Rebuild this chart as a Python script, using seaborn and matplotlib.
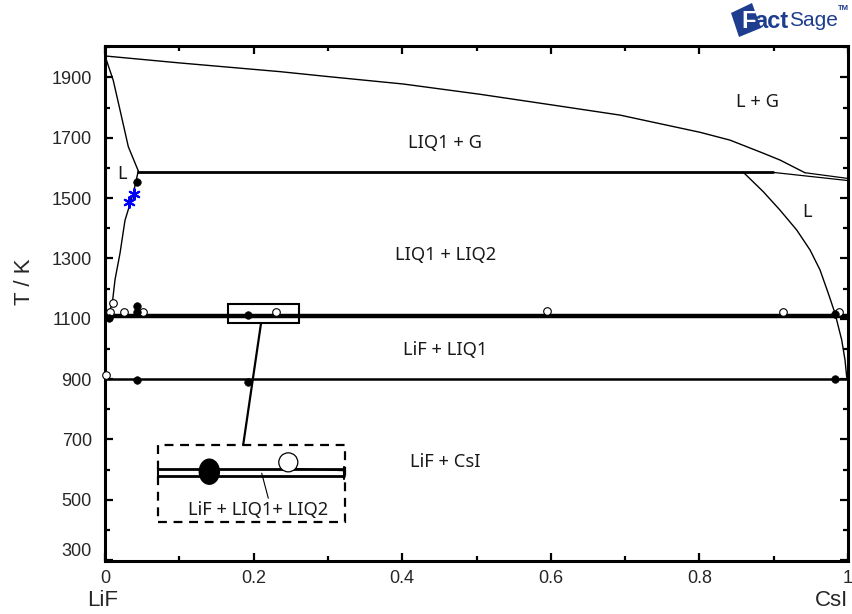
import numpy as np
import pandas as pd
import matplotlib
matplotlib.use('Agg')
import matplotlib.pyplot as plt
import seaborn as sns
from matplotlib.patches import Rectangle, Ellipse, Polygon
from matplotlib.ticker import MultipleLocator

# ---------------- data (mole fraction CsI, T / K) ----------------
gas_top_x = [0.0, 0.1, 0.2355, 0.3028, 0.4015, 0.5047, 0.6034, 0.6931, 0.8008, 0.8412, 0.8856, 0.9085, 0.942]
gas_top_T = [1971, 1948, 1919, 1902, 1878, 1844, 1808, 1775, 1718, 1692, 1649, 1626, 1584]
gas_right1_x = [0.942, 1.0]
gas_right1_T = [1584, 1565]
gas_right2_x = [0.8995, 1.0]
gas_right2_T = [1585, 1558]
gas_left_x = [0.0, 0.011, 0.0202, 0.0314, 0.0448]
gas_left_T = [1971, 1891, 1792, 1670, 1590]
liq1_x = [0.0448, 0.0381, 0.0269, 0.0202, 0.0135, 0.0098, 0.004]
liq1_T = [1590, 1516, 1426, 1317, 1230, 1151, 1109]
liq2_x = [0.858, 0.8614, 0.886, 0.9085, 0.931, 0.9489, 0.9623, 0.9735, 0.9825, 0.9915, 0.996, 0.9982, 0.999]
liq2_T = [1586, 1580, 1521, 1460, 1394, 1328, 1262, 1184, 1118, 1030, 963, 908, 900]
mono_hi_x = [0.0448, 0.8995]
mono_hi_T = [1586, 1586]
mono_lo_x = [0.0, 1.0]
mono_lo_T = [1108, 1108]
thin_mono_x = [0.26, 0.63]
thin_mono_T = [1112, 1110]
eut_x = [0.0, 1.0]
eut_T = [900, 900]

filled_x = [0.0435, 0.0435, 0.0435, 0.0435, 0.193, 0.193, 0.982, 0.982, 0.005]
filled_T = [1552, 1143, 1123, 897, 1112, 891, 1116, 900, 1103]
open_x = [0.011, 0.007, 0.026, 0.051, 0.230, 0.5945, 0.912, 0.988, 0.001]
open_T = [1151, 1123, 1123, 1123, 1123, 1124, 1122, 1122, 913]
star_x = [0.0395, 0.0327]
star_T = [1512, 1488]

region_labels = ['L + G', 'LIQ1 + G', 'L', 'L', 'LIQ1 + LIQ2', 'LiF + LIQ1', 'LiF + CsI']
region_x = [0.878, 0.458, 0.023, 0.945, 0.458, 0.458, 0.458]
region_T = [1818, 1681, 1580, 1453, 1311, 996, 624]

# inset (zoom of the monotectic region)
zoom_box_x = [0.165, 0.261]
zoom_box_T = [1085, 1150]
inset_box_x = [0.0713, 0.323]
inset_box_T = [427, 682]
connector_x = [0.210, 0.186]
connector_T = [1085, 682]
inset_line_x = [0.0716, 0.322]
inset_line_T_upper = 601
inset_line_T_lower = 580
inset_thin_x = [0.253, 0.3217]
inset_thin_T = [604, 596]
inset_leader_x = [0.2109, 0.2198]
inset_leader_T = [588, 505]
inset_filled = (0.1404, 593)
inset_open = (0.2467, 624)
inset_label = 'LiF + LIQ1+ LIQ2'
inset_label_pos = (0.206, 466)

xticks = [0, 0.2, 0.4, 0.6, 0.8, 1.0]
xtick_labels = ['0', '0.2', '0.4', '0.6', '0.8', '1']
yticks = [300, 500, 700, 900, 1100, 1300, 1500, 1700, 1900]

# ---------------- figure ----------------
sns.set_theme(style='ticks')
plt.rcParams['font.family'] = ['Liberation Sans', 'DejaVu Sans']

fig = plt.figure(figsize=(8.53, 6.14), dpi=100)
ax = fig.add_axes([105/853, 1 - 560.7/614, 743/853, (560.7 - 45.7)/614])

def line(xs, ts, lw=1.0, color='black', **kw):
    df = pd.DataFrame({'x': xs, 'T': ts})
    sns.lineplot(data=df, x='x', y='T', sort=False, estimator=None, color=color,
                 lw=lw, ax=ax, legend=False, **kw)

line(gas_top_x, gas_top_T, 1.0)
line(gas_right1_x, gas_right1_T, 0.9)
line(gas_right2_x, gas_right2_T, 0.9)
line(gas_left_x, gas_left_T, 1.0)
line(liq1_x, liq1_T, 1.0)
line(liq2_x, liq2_T, 1.0)
line(mono_hi_x, mono_hi_T, 2.0)
line(thin_mono_x, thin_mono_T, 0.8, color='#555555')
line(mono_lo_x, mono_lo_T, 3.2)
line(eut_x, eut_T, 1.8)

# experimental points
sns.scatterplot(x=open_x, y=open_T, marker='o', s=30, facecolor='white',
                edgecolor='black', linewidth=0.8, ax=ax, clip_on=False, zorder=5)
sns.scatterplot(x=filled_x, y=filled_T, marker='o', s=30, color='black',
                edgecolor='black', ax=ax, clip_on=False, zorder=6)
sns.scatterplot(x=star_x, y=star_T, marker=(6, 2, 0), s=60, color='blue',
                edgecolor='blue', linewidth=1.5, ax=ax, zorder=6)

# region labels
for lab, x, t in zip(region_labels, region_x, region_T):
    ax.text(x, t, lab, ha='center', va='center', fontsize=13.2,
            family=['Noto Sans', 'DejaVu Sans'], color='#1a1a1a')

# zoom box and inset
ax.add_patch(Rectangle((zoom_box_x[0], zoom_box_T[0]), zoom_box_x[1] - zoom_box_x[0],
                       zoom_box_T[1] - zoom_box_T[0], fill=False, lw=1.5, ec='black', zorder=4))
ax.add_patch(Rectangle((inset_box_x[0], inset_box_T[0]), inset_box_x[1] - inset_box_x[0],
                       inset_box_T[1] - inset_box_T[0], fill=False, lw=1.6, ec='black',
                       ls=(0, (4, 3)), zorder=4))
line(connector_x, connector_T, 1.6)
line(inset_line_x, [inset_line_T_upper] * 2, 2.0)
line(inset_line_x, [inset_line_T_lower] * 2, 2.0)
for xe in inset_line_x:
    line([xe, xe], [inset_line_T_lower - 10, inset_line_T_upper + 8], 1.5)
line(inset_thin_x, inset_thin_T, 0.8)
line(inset_leader_x, inset_leader_T, 0.8)
ax.add_patch(Ellipse(inset_filled, 0.027, 83, fc='black', ec='black', zorder=6))
ax.add_patch(Ellipse(inset_open, 0.0256, 63, fc='white', ec='black', lw=0.9, zorder=6))
ax.text(inset_label_pos[0], inset_label_pos[1], inset_label, ha='center', va='center',
        fontsize=13.2, family=['Noto Sans', 'DejaVu Sans'], color='#1a1a1a')

# axes
ax.set_xlim(0, 1)
ax.set_ylim(298, 2005)
ax.set_xticks(xticks)
ax.set_xticklabels(xtick_labels)
ax.set_yticks(yticks)
ax.set_yticklabels([str(v) for v in yticks])
ax.xaxis.set_minor_locator(MultipleLocator(0.1))
ax.yaxis.set_minor_locator(MultipleLocator(100))
ax.tick_params(which='both', direction='in', top=True, right=True, width=1.6, color='black')
ax.tick_params(which='major', length=6)
ax.tick_params(which='minor', length=3.5)
ax.tick_params(axis='x', pad=6.5, labelsize=13)
ax.tick_params(axis='y', pad=9.5, labelsize=13)
for lab in ax.get_yticklabels():
    if lab.get_text() == '300':
        lab.set_va('bottom')
for sp in ax.spines.values():
    sp.set_linewidth(2.2)
    sp.set_color('black')
ax.set_xlabel('')
ax.set_ylabel('')

fig.text(25/853, 1 - 282/614, 'T / K', rotation=90, ha='center', va='center', fontsize=16)
fig.text(103/853, 1 - 601/614, 'LiF', ha='center', va='center', fontsize=16)
fig.text(832/853, 1 - 601/614, 'CsI', ha='center', va='center', fontsize=16)

# FactSage logo (approximation)
sq = Polygon([(731/853, 1 - 13/614), (752/853, 1 - 3/614), (761/853, 1 - 28/614), (739/853, 1 - 37/614)],
             closed=True, transform=fig.transFigure, fc='#1e3d8f', ec='none')
fig.patches.append(sq)
fig.text(741/853, 1 - 21/614, 'F', color='white', fontsize=17, fontweight='bold', ha='left', va='center')
fig.text(754/853, 1 - 21/614, 'act', color='#1e3d8f', fontsize=17, fontweight='bold', ha='left', va='center')
fig.text(789/853, 1 - 21/614, 'Sage', color='#1e3d8f', fontsize=15, ha='left', va='center',
         family=['Liberation Sans Narrow', 'Liberation Sans'])
fig.text(838/853, 1 - 9/614, 'TM', color='#1e3d8f', fontsize=5.5, fontweight='bold', ha='left', va='center')

fig.savefig('out.png', dpi=100)
